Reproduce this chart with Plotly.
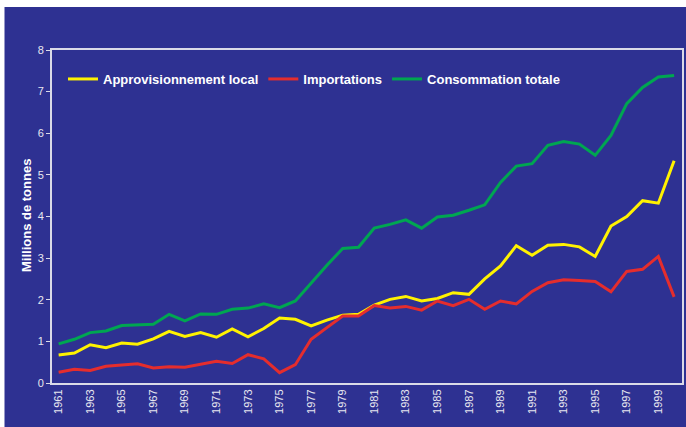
import plotly.graph_objects as go

years = list(range(1961, 2001))

approvisionnement_local = [
    0.67, 0.72, 0.92, 0.85, 0.96, 0.93, 1.06, 1.24, 1.12, 1.21,
    1.10, 1.30, 1.11, 1.31, 1.56, 1.53, 1.37, 1.51, 1.63, 1.65,
    1.87, 2.01, 2.08, 1.97, 2.03, 2.17, 2.13, 2.50, 2.81, 3.30,
    3.07, 3.31, 3.33, 3.27, 3.04, 3.77, 4.00, 4.38, 4.32, 5.34,
]
importations = [
    0.26, 0.33, 0.30, 0.40, 0.43, 0.46, 0.36, 0.39, 0.38, 0.45,
    0.52, 0.47, 0.68, 0.58, 0.25, 0.44, 1.05, 1.33, 1.61, 1.61,
    1.86, 1.80, 1.84, 1.75, 1.97, 1.86, 2.01, 1.77, 1.97, 1.90,
    2.20, 2.41, 2.48, 2.46, 2.44, 2.19, 2.68, 2.73, 3.04, 2.07,
]
consommation_totale = [
    0.94, 1.05, 1.21, 1.25, 1.38, 1.39, 1.41, 1.65, 1.49, 1.66,
    1.65, 1.77, 1.80, 1.90, 1.81, 1.97, 2.41, 2.83, 3.23, 3.26,
    3.72, 3.81, 3.92, 3.72, 3.99, 4.03, 4.15, 4.28, 4.82, 5.21,
    5.27, 5.71, 5.80, 5.74, 5.47, 5.95, 6.71, 7.10, 7.35, 7.39,
]
x_tick_labels = [str(y) for y in range(1961, 2000, 2)]

BG = "#2E3192"
AX = "#DADAE8"
FONT = "Liberation Sans, Arial, sans-serif"

fig = go.Figure()
series = [
    ("Approvisionnement local", approvisionnement_local, "#FFF200"),
    ("Importations", importations, "#E52D2D"),
    ("Consommation totale", consommation_totale, "#00A651"),
]
for name, vals, col in series:
    fig.add_trace(go.Scatter(x=years, y=vals, mode="lines", name=name,
                             line=dict(color=col, width=3)))

W, H = 686, 427
L, R, T, B = 52, 4, 50, 44
pw, ph = W - L - R, H - T - B

def fx(px):
    return (px - L) / pw

def fy(py):
    return (H - B - py) / ph

fig.add_shape(type="rect", xref="paper", yref="paper",
              x0=fx(4.5), x1=fx(W + 2), y0=fy(7), y1=fy(H + 2),
              fillcolor=BG, line=dict(width=0), layer="below")

fig.add_annotation(text="<b>Millions de tonnes</b>", xref="paper", yref="paper",
                   x=fx(26), y=fy(216), xanchor="center", yanchor="middle",
                   textangle=-90, showarrow=False,
                   font=dict(size=13, color="white", family=FONT))

fig.update_layout(
    width=W, height=H,
    margin=dict(l=L, r=R, t=T, b=B),
    paper_bgcolor="white",
    plot_bgcolor=BG,
    font=dict(family=FONT, color="white"),
    showlegend=True,
    legend=dict(orientation="h", x=fx(63), y=fy(79), xanchor="left", yanchor="middle",
                bgcolor="rgba(0,0,0,0)",
                font=dict(size=13, color="white", family=FONT, weight="bold"),
                itemwidth=30),
    xaxis=dict(range=[1960.58, 2000.5], tickmode="array",
               tickvals=[int(t) for t in x_tick_labels], ticktext=x_tick_labels,
               tickangle=-90, tickfont=dict(size=11, color="#E8E8F0"),
               showgrid=False, zeroline=False, showline=True, linecolor=AX,
               linewidth=2, mirror=True, ticks="", automargin=False),
    yaxis=dict(range=[0, 8], dtick=1, tickfont=dict(size=11, color="#E8E8F0"),
               showgrid=False, zeroline=False, showline=True, linecolor=AX,
               linewidth=2, mirror=True, ticks="outside", ticklen=4, tickcolor=AX,
               automargin=False),
)

fig.write_html("out.html", config={"displayModeBar": False},
               post_script="document.body.style.margin='0px';document.body.style.overflow='hidden';")
